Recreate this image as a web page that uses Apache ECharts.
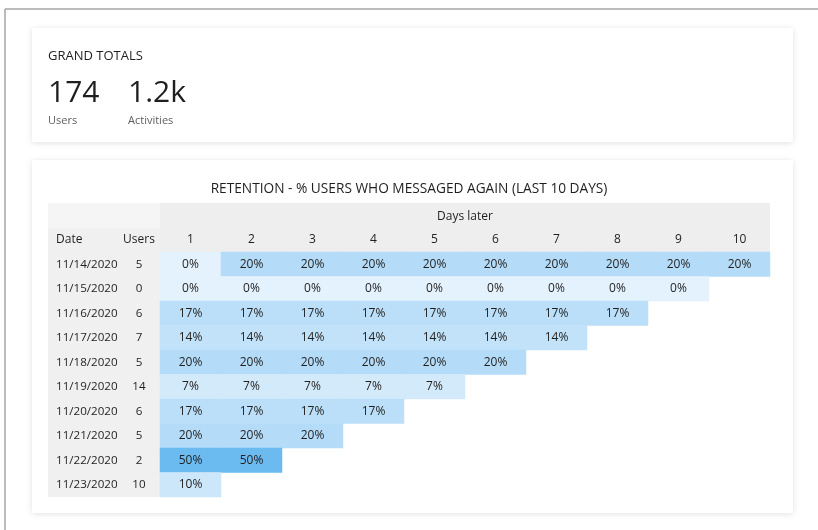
<!DOCTYPE html>
<html>
<head>
<meta charset="utf-8">
<script src="https://cdn.jsdelivr.net/npm/echarts@6/dist/echarts.min.js"></script>
<style>
  html, body { margin: 0; padding: 0; background: #fff; }
  #chart { width: 818px; height: 530px; }
</style>
</head>
<body>
<div id="chart"></div>
<script>
const FONT = '"Open Sans", "Noto Sans", sans-serif';
const TEXT = '#201f1e';

const totalValues = ['174', '1.2k'];
const totalLabels = ['Users', 'Activities'];

const dates = ['11/14/2020', '11/15/2020', '11/16/2020', '11/17/2020', '11/18/2020',
  '11/19/2020', '11/20/2020', '11/21/2020', '11/22/2020', '11/23/2020'];
const users = [5, 0, 6, 7, 5, 14, 6, 5, 2, 10];
const days = ['1', '2', '3', '4', '5', '6', '7', '8', '9', '10'];
const headerCols = ['Date', 'Users'];

// retention % per date row, one entry per day later (rows get shorter)
const retention = [
  [0, 20, 20, 20, 20, 20, 20, 20, 20, 20],
  [0, 0, 0, 0, 0, 0, 0, 0, 0],
  [17, 17, 17, 17, 17, 17, 17, 17],
  [14, 14, 14, 14, 14, 14, 14],
  [20, 20, 20, 20, 20, 20],
  [7, 7, 7, 7, 7],
  [17, 17, 17, 17],
  [20, 20, 20],
  [50, 50],
  [10]
];

const heatData = [];
retention.forEach((row, r) => {
  row.forEach((v, d) => heatData.push([d, r, v]));
});

const chart = echarts.init(document.getElementById('chart'));

function card(x, y, w, h) {
  return {
    type: 'rect', z: -30,
    shape: { x, y, width: w, height: h },
    style: { fill: '#fff', shadowBlur: 6, shadowColor: 'rgba(0,0,0,0.12)', shadowOffsetY: 1 }
  };
}

const graphics = [
  // outer frame
  { type: 'line', z: -40, shape: { x1: 5, y1: 9, x2: 818, y2: 9 }, style: { stroke: '#a6a6a6', lineWidth: 1.5 } },
  { type: 'line', z: -40, shape: { x1: 5, y1: 9, x2: 5, y2: 530 }, style: { stroke: '#a6a6a6', lineWidth: 1.5 } },
  card(32, 28, 761, 114),
  card(32, 160, 761, 353),
  // table header backgrounds
  { type: 'rect', z: -20, shape: { x: 48, y: 203, width: 112, height: 25 }, style: { fill: '#f5f5f5' } },
  { type: 'rect', z: -20, shape: { x: 48, y: 228, width: 112, height: 269 }, style: { fill: '#f0f0f0' } },
  { type: 'rect', z: -20, shape: { x: 160, y: 203, width: 610, height: 49 }, style: { fill: '#eeeeee' } },
  {
    type: 'text', z: 10, left: 48, top: 50,
    style: { text: 'GRAND TOTALS', fill: TEXT, font: '13px ' + FONT }
  }
];

const totalX = [48, 128];
totalValues.forEach((v, i) => {
  graphics.push({
    type: 'text', z: 10, left: totalX[i], top: 78,
    style: { text: v, fill: TEXT, font: '30px ' + FONT }
  });
  graphics.push({
    type: 'text', z: 10, left: totalX[i], top: 115,
    style: { text: totalLabels[i], fill: '#605e5c', font: '11px ' + FONT }
  });
});

const headerX = [56, 139];
headerCols.forEach((h, i) => {
  graphics.push({
    type: 'text', z: 10, x: headerX[i], y: 240,
    style: { text: h, fill: TEXT, font: '12px ' + FONT, align: i === 0 ? 'left' : 'center', verticalAlign: 'middle' }
  });
});

chart.setOption({
  animation: false,
  backgroundColor: '#fff',
  textStyle: { fontFamily: FONT },
  title: {
    text: 'RETENTION - % USERS WHO MESSAGED AGAIN (LAST 10 DAYS)',
    left: 'center',
    top: 177,
    textStyle: { fontSize: 13.7, fontWeight: 'normal', color: TEXT, fontFamily: FONT }
  },
  grid: { left: 160, right: 48, top: 252, bottom: 33 },
  xAxis: {
    type: 'category',
    position: 'top',
    data: days,
    name: 'Days later',
    nameLocation: 'middle',
    nameGap: 29,
    nameTextStyle: { color: TEXT, fontSize: 12, fontFamily: FONT },
    axisLine: { show: false },
    axisTick: { show: false },
    splitLine: { show: false },
    axisLabel: { color: TEXT, fontSize: 12, margin: 6, fontFamily: FONT }
  },
  yAxis: {
    type: 'category',
    data: dates,
    inverse: true,
    axisLine: { show: false },
    axisTick: { show: false },
    splitLine: { show: false },
    axisLabel: {
      margin: 0,
      formatter: (v, i) => `{d|${v}}{u|${users[i]}}`,
      rich: {
        d: { width: 62, align: 'left', color: TEXT, fontSize: 11.6, fontFamily: FONT },
        u: { width: 42, align: 'center', color: TEXT, fontSize: 11.6, fontFamily: FONT }
      }
    }
  },
  visualMap: {
    show: false,
    type: 'continuous',
    min: 0,
    max: 50,
    inRange: { color: ['#e4f2fd', '#6bbaf0'] }
  },
  graphic: graphics,
  series: [{
    type: 'heatmap',
    data: heatData,
    itemStyle: { borderWidth: 0 },
    label: {
      show: true,
      formatter: p => p.value[2] + '%',
      color: TEXT,
      fontSize: 12,
      fontFamily: FONT
    },
    emphasis: { disabled: true }
  }]
});
</script>
</body>
</html>
